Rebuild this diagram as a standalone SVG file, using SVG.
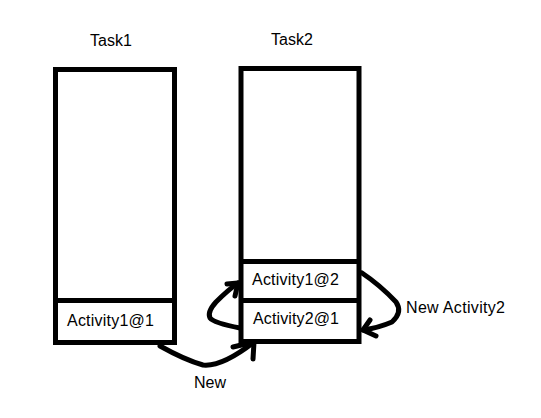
<svg xmlns="http://www.w3.org/2000/svg" width="541" height="418" viewBox="0 0 541 418">
<style>
.box{fill:none;stroke:#000;stroke-width:5}
.ln{fill:none;stroke:#000;stroke-width:5}
.con{fill:none;stroke:#000;stroke-width:5;stroke-linecap:round;stroke-linejoin:round}
text{font-family:"Liberation Sans","DejaVu Sans",sans-serif;font-size:16px;fill:#000}
</style>
<rect width="541" height="418" fill="#fff"/>
<g id="task1">
<text x="90" y="46" font-size="15">Task1</text>
<rect class="box" x="55.5" y="69.5" width="119" height="273"/>
</g>
<g id="activity1at1">
<line class="ln" x1="55.5" y1="300.5" x2="174.5" y2="300.5"/>
<text x="67" y="326" textLength="87">Activity1@1</text>
</g>
<g id="task2">
<text x="271" y="45" font-size="15">Task2</text>
<rect class="box" x="241" y="68.5" width="118" height="273"/>
</g>
<g id="activity1at2">
<line class="ln" x1="241" y1="261.5" x2="359" y2="261.5"/>
<text x="252" y="285" textLength="87">Activity1@2</text>
</g>
<g id="activity2at1">
<line class="ln" x1="241" y1="300.5" x2="359" y2="300.5"/>
<text x="253" y="324" textLength="86">Activity2@1</text>
</g>
<g id="connectors">
<path class="con" d="M160,346 Q185,360 203,365 Q222,367 254,342"/>
<path class="con" d="M233,347 L254,342 L253,359"/>
<path class="con" d="M240,328 Q214,323 210,318 Q207,312 216,302 Q228,290 238,283"/>
<path class="con" d="M227,284 L238,283 L235,296"/>
<path class="con" d="M362,273 Q380,285 396,302 Q403,312 392,322 Q378,328 363,330"/>
<path class="con" d="M370,320 L363,330 L376,336"/>
<text x="194" y="388" font-size="15">New</text>
<text x="406" y="313" textLength="99">New Activity2</text>
</g>
</svg>
